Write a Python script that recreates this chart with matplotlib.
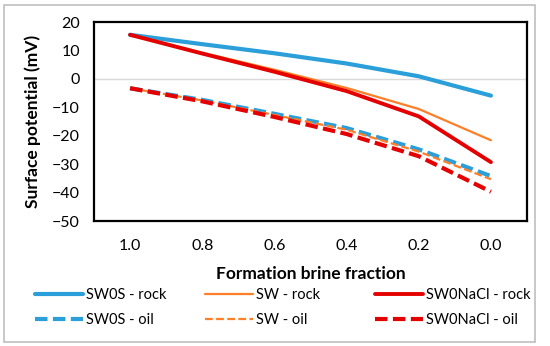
import matplotlib
matplotlib.use("Agg")
import matplotlib.pyplot as plt
from matplotlib.patches import Rectangle

plt.rcParams['font.family'] = ['Lato', 'DejaVu Sans']

categories = ["1.0", "0.8", "0.6", "0.4", "0.2", "0.0"]
sw0s_rock = [15.5, 12.2, 9.0, 5.4, 0.9, -5.9]
sw_rock = [15.5, 9.2, 3.2, -3.2, -10.6, -21.6]
sw0nacl_rock = [15.5, 8.9, 2.5, -4.3, -13.2, -29.3]
sw0s_oil = [-3.3, -7.4, -12.3, -17.3, -24.8, -34.2]
sw_oil = [-3.3, -7.6, -12.7, -17.9, -25.6, -35.3]
sw0nacl_oil = [-3.3, -7.9, -13.4, -19.4, -27.2, -39.7]

BLUE = '#2A9FDA'
ORANGE = '#FF7F27'
RED = '#E50000'

W, H = 550, 346
fig = plt.figure(figsize=(W/100, H/100), dpi=100)
fig.patch.set_facecolor('white')
fig.add_artist(Rectangle((4/W, 1-342/H), (535-4)/W, (342-5)/H, transform=fig.transFigure,
                         fill=False, edgecolor='#BFBFBF', lw=1.2))

ax = fig.add_axes([94/W, 1-221/H, (527-94)/W, (221-22)/H])
x = list(range(len(categories)))
ax.axhline(0, color='#D9D9D9', lw=1, zorder=1)

l1, = ax.plot(x, sw0s_rock, color=BLUE, lw=3.0, solid_capstyle='round', label='SW0S - rock', zorder=3)
l2, = ax.plot(x, sw_rock, color=ORANGE, lw=1.6, solid_capstyle='round', label='SW - rock', zorder=3)
l3, = ax.plot(x, sw0nacl_rock, color=RED, lw=2.8, solid_capstyle='round', label='SW0NaCl - rock', zorder=4)
l4, = ax.plot(x, sw0s_oil, color=BLUE, lw=3.0, dashes=(3.0, 1.3), dash_capstyle='butt', label='SW0S - oil', zorder=3)
l5, = ax.plot(x, sw_oil, color=ORANGE, lw=1.6, dashes=(3.5, 1.5), dash_capstyle='butt', label='SW - oil', zorder=3)
l6, = ax.plot(x, sw0nacl_oil, color=RED, lw=3.0, dashes=(3.0, 1.3), dash_capstyle='butt', label='SW0NaCl - oil', zorder=4)

ax.set_xlim(-0.5, len(categories) - 0.5)
ax.set_ylim(-50, 20)
ax.set_yticks(range(-50, 21, 10))
ax.set_xticks(x)
ax.set_xticklabels(categories)
ax.tick_params(axis='both', length=0, labelsize=11.5, colors='black')
ax.tick_params(axis='y', pad=10)
ax.tick_params(axis='x', pad=13)
for s in ax.spines.values():
    s.set_linewidth(1.6)
    s.set_color('black')

ax.set_xlabel('Formation brine fraction', fontsize=12.5, fontweight='bold', labelpad=9)
ax.set_ylabel('Surface potential (mV)', fontsize=12.5, fontweight='bold', labelpad=8)

legend_cols = [([l1, l4], 35), ([l2, l5], 205), ([l3, l6], 375)]
for handles, xpx in legend_cols:
    fig.legend(handles=handles, loc='upper left', bbox_to_anchor=(xpx/W, 1-288/H),
               frameon=False, fontsize=10.5, handlelength=3.3, handletextpad=0.2,
               labelspacing=0.75, borderpad=0, borderaxespad=0)

fig.savefig('out.png', dpi=100)
